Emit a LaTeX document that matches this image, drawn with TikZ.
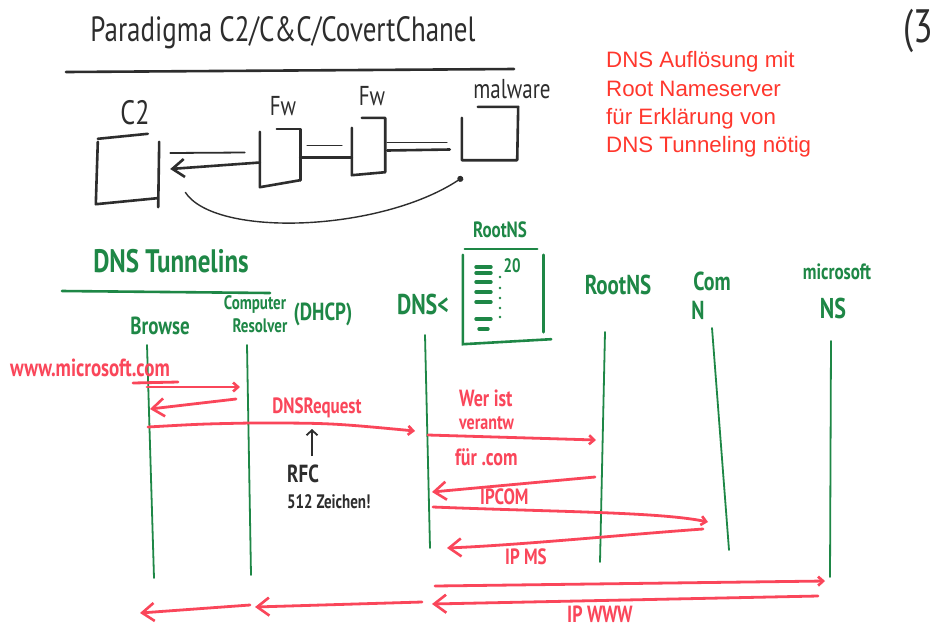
\documentclass[tikz,border=0pt]{standalone}
\usepackage{fontspec}
\setmainfont{Liberation Sans}
\newfontfamily\hand{PT Sans}
\usetikzlibrary{arrows.meta,calc}
\definecolor{ink}{RGB}{45,45,45}
\definecolor{grn}{RGB}{30,135,70}
\definecolor{hred}{RGB}{250,70,90}
\definecolor{tred}{RGB}{255,55,45}
\newcommand{\vst}[1]{\scalebox{1}[1.3]{#1}}
\begin{document}
\begin{tikzpicture}[x=1pt,y=-1pt,
  hw/.style={font={\hand\bfseries\fontsize{#1}{#1}\selectfont}, inner sep=0pt},
  hwl/.style={font={\hand\fontsize{#1}{#1}\selectfont}, inner sep=0pt},
  blk/.style={draw=ink, line width=2.6pt, line cap=round, line join=round},
  gln/.style={draw=grn, line width=1.8pt, line cap=round},
  msg/.style={draw=hred, line width=2.8pt, line cap=round},
  lhead/.style={-{Straight Barb[length=12pt,width=18pt,line width=2.6pt]}},
  rhead/.style={-{Straight Barb[length=5pt,width=9pt,line width=2.6pt]}},
  boxspot/.style={draw=none, inner sep=0pt, minimum width=#1},
  tline/.style={font={\fontsize{22.3}{28}\selectfont}, text=tred, inner sep=0pt, anchor=base west}]
\useasboundingbox[fill=white] (0,0) rectangle (939,633);

% ---------- top part ----------
\node[hwl=27, text=ink] (title) at (283,33) {\vst{Paradigma C2/C\&C/CovertChanel}};
\draw[blk] (66,72) -- (514,69);
\node[hwl=36, text=ink] (page) at (918,31) {\vst{(3}};

\node[boxspot=61pt, minimum height=66pt] (c2) at (127.5,171) {};
\node[boxspot=40pt, minimum height=55pt] (fw1) at (280,157.5) {};
\node[boxspot=33pt, minimum height=57pt] (fw2) at (368.5,146.5) {};
\node[boxspot=56pt, minimum height=53pt] (mal) at (490,133.5) {};

\node[hwl=26, text=ink] (c2l) at (135,113) {\vst{C2}};
\node[hwl=21, text=ink] (fw1l) at (283,106) {\vst{Fw}};
\node[hwl=21, text=ink] (fw2l) at (372,96) {\vst{Fw}};
\node[hwl=21, text=ink] (mall) at (512,89) {\vst{malware}};

% C2 box sketch
\draw[blk] ($(c2.north west)+(1,4)$) -- ($(c2.south west)+(-1,0)$) -- ($(c2.south east)+(-1,-6)$);
\draw[blk] ($(c2.north west)+(1,1)$) -- ($(c2.north west)+(51,-4)$);
\draw[blk] ($(c2.north east)+(1,4)$) -- ($(c2.south east)+(0,3)$);
% Fw1 box sketch
\draw[blk] ($(fw1.north west)+(0,2)$) -- ($(fw1.south west)+(0,2)$) -- ($(fw1.south east)+(0,-5)$);
\draw[blk] ($(fw1.north west)+(17,-1)$) -- ($(fw1.north east)+(0,-1)$) -- ($(fw1.south east)+(0,-5)$);
% Fw2 box sketch
\draw[blk] ($(fw2.north west)+(10,0)$) -- (fw2.north east) -- ($(fw2.south east)+(0,-3)$) -- (fw2.south west) -- ($(fw2.north west)+(0,10)$);
% malware box sketch
\draw[blk] ($(mal.north west)+(16,0)$) -- (mal.north east) -- ($(mal.south east)+(-1,0)$) -- (mal.south west) -- ($(mal.north west)+(0,11)$);

% connections
\draw[blk, lhead] ($(fw1.west)+(0,5)$) -- ($(c2.east)+(12,-2)$);
\draw[blk, line width=1.8pt] ($(c2.east)+(12,-18)$) -- ($(fw1.west)+(-15,-5)$);
\draw[blk, line width=1.8pt] ($(fw1.east)+(7,-12)$) -- ($(fw2.west)+(-10,-1)$);
\draw[blk] (fw1.east) -- ($(fw2.west)+(0,11)$);
\draw[blk, line width=1.8pt] ($(fw2.east)+(2,-4)$) -- ($(mal.west)+(-15,9)$);
\draw[blk] ($(fw2.east)+(2,4)$) -- ($(mal.west)+(-12,16)$);
\draw[draw=ink, line width=1.4pt, -{Circle[length=6pt]}] ($(c2.south east)+(27,-12)$)
  .. controls (215,238) and (380,232) .. ($(mal.south west)+(1,17)$);

% typed remark
\node[tline] (t1) at (606,67) {DNS Auflösung mit};
\node[tline] (t2) at (606,96) {Root Nameserver};
\node[tline] (t3) at (606,124) {für Erklärung von};
\node[tline] (t4) at (606,152) {DNS Tunneling nötig};

% ---------- DNS tunneling ----------
\node[hw=25, text=grn] (dnst) at (171,261) {\vst{DNS Tunnelins}};
\draw[gln, line width=2.6pt] (62,291) -- (270,293);

\node[hw=19, text=grn] (brl) at (160,326) {\vst{Browse}};
\node[hw=15, text=grn] (cpl) at (255,304) {\vst{Computer}};
\node[hw=15, text=grn] (rsl) at (260,326) {\vst{Resolver}};
\node[hw=19, text=grn] (dhl) at (323,314) {\vst{(DHCP)}};
\node[hw=22, text=grn] (dnl) at (423,304) {\vst{DNS<}};
\node[hw=17, text=grn] (rnl) at (500,230) {\vst{RootNS}};
\node[hw=21, text=grn] (rootl) at (618,285) {\vst{RootNS}};
\node[hw=20, text=grn] (coml) at (712,281) {\vst{Com}};
\node[hw=20, text=grn] (nl) at (698,310) {\vst{N}};
\node[hw=17, text=grn] (msl) at (837,272) {\vst{microsoft}};
\node[hw=22, text=grn] (nsl) at (833,308) {\vst{NS}};

% Root NS list box
\node[boxspot=80pt, minimum height=86pt] (rbox) at (503,293) {};
\draw[gln, line width=2.6pt] ($(rbox.north west)+(2,-1)$) -- ($(rbox.north east)+(-6,-1)$);
\draw[gln, line width=2.6pt] ($(rbox.north west)+(0,5)$) -- ($(rbox.south west)+(0,8)$) -- ($(rbox.south east)+(8,3)$);
\draw[gln, line width=2.6pt] ($(rbox.north east)+(0,5)$) -- ($(rbox.south east)+(0,-4)$);
\foreach \yy in {267,273,282,292,302,319}
  \draw[gln, line width=3.4pt] (476,\yy) -- (491,\yy);
\draw[gln, line width=3.4pt] (479,329) -- (488,329);
\node[hw=15, text=grn] (twenty) at (512,266) {\vst{20}};
\foreach \yy in {277,288,298,308,317}
  \fill[grn] (500,\yy) circle (1.4);

% lifelines
\coordinate (brT) at (147,345); \coordinate (brB) at (154,578);
\coordinate (rsT) at (247,345); \coordinate (rsB) at (251,575);
\coordinate (dnT) at (425,335); \coordinate (dnB) at (430,548);
\coordinate (rtT) at (605,332); \coordinate (rtB) at (600,562);
\coordinate (cmT) at (712,328); \coordinate (cmB) at (729,550);
\coordinate (msT) at (831,341); \coordinate (msB) at (830,577);
\foreach \a/\b in {brT/brB, rsT/rsB, dnT/dnB, rtT/rtB, cmT/cmB, msT/msB}
  \draw[gln] (\a) -- (\b);

% message end points
\coordinate (m1a) at (147,387); \coordinate (m1b) at (240,387);
\coordinate (m2a) at (236,399); \coordinate (m2b) at (150,409);
\coordinate (m3a) at (148,427); \coordinate (m3m) at (250,423); \coordinate (m3b) at (415,431);
\coordinate (m4a) at (428,435); \coordinate (m4b) at (596,440);
\coordinate (m5a) at (595,477); \coordinate (m5b) at (432,492);
\coordinate (m6a) at (433,507); \coordinate (m6b) at (708,522);
\coordinate (m7a) at (703,529); \coordinate (m7b) at (447,548);
\coordinate (m8a) at (435,586); \coordinate (m8b) at (825,581);
\coordinate (m9a) at (818,596); \coordinate (m9b) at (432,604);
\coordinate (m10a) at (422,602); \coordinate (m10b) at (255,607);
\coordinate (m11a) at (250,605); \coordinate (m11b) at (140,613);

\node[hw=19, text=hred] (url) at (90,368) {\vst{www.microsoft.com}};
\draw[msg] (133,383) -- (178,382);
\draw[msg, rhead] (m1a) -- (m1b);
\draw[msg, lhead] (m2a) -- (m2b);
\draw[msg, rhead] (m3a) .. controls (200,424) .. (m3m) .. controls (330,423) .. (m3b);
\node[hw=17, text=hred] (dnsreq) at (317,408) {\vst{DNSRequest}};
\draw[draw=ink, line width=1.8pt, -{Straight Barb[length=5pt,width=11pt,line width=1.8pt]}] (312,456) -- (312,429);
\node[hw=19, text=ink, anchor=west] (rfc) at (287,474) {\vst{RFC}};
\node[hw=15, text=ink, anchor=west] (zeichen) at (287,502) {\vst{512 Zeichen!}};

\node[hw=18, text=hred, anchor=west] (wer) at (459,398) {\vst{Wer ist}};
\node[hw=16, text=hred, anchor=west] (ver) at (459,423) {\vst{verantw}};
\draw[msg, rhead] (m4a) -- (m4b);
\node[hw=18, text=hred, anchor=west] (fuer) at (455,457) {\vst{für .com}};
\draw[msg, lhead] (m5a) -- (m5b);
\node[hw=17, text=hred, anchor=west] (ipcom) at (480,497) {\vst{IPCOM}};
\draw[msg, rhead] (m6a) .. controls (560,512) and (660,512) .. (m6b);
\draw[msg, lhead] (m7a) .. controls (620,535) and (520,545) .. (m7b);
\node[hw=17, text=hred, anchor=west] (ipms) at (505,557) {\vst{IP MS}};
\draw[msg, rhead] (m8a) -- (m8b);
\draw[msg, lhead] (m9a) -- (m9b);
\node[hw=18, text=hred, anchor=west] (ipwww) at (567,614) {\vst{IP WWW}};
\draw[msg, lhead] (m10a) -- (m10b);
\draw[msg, lhead] (m11a) -- (m11b);
\end{tikzpicture}
\end{document}
